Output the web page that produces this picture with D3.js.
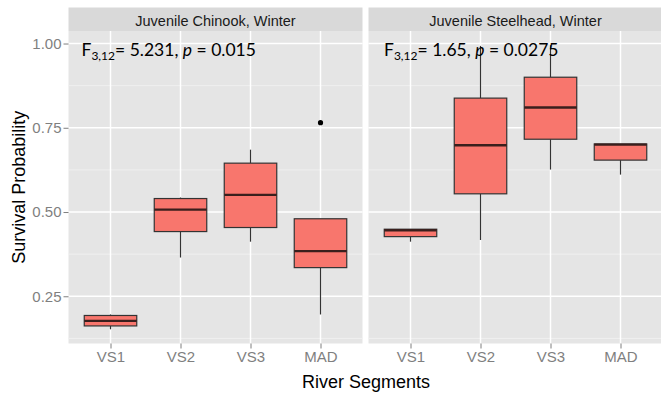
<!DOCTYPE html>
<html>
<head>
<meta charset="utf-8">
<script src="https://cdn.jsdelivr.net/npm/d3@7/dist/d3.min.js"></script>
<style>
  html, body { margin: 0; padding: 0; background: #fff; }
  svg { display: block; }
</style>
</head>
<body>
<svg id="chart" width="661" height="395"></svg>
<script>
// River segments on the x axis
const segments = ["VS1", "VS2", "VS3", "MAD"];
const panelTitles = ["Juvenile Chinook, Winter", "Juvenile Steelhead, Winter"];

// Juvenile Chinook box statistics (whisker low, Q1, median, Q3, whisker high)
const chinookLow    = [0.152, 0.365, 0.412, 0.196];
const chinookQ1     = [0.162, 0.442, 0.454, 0.335];
const chinookMedian = [0.177, 0.507, 0.551, 0.384];
const chinookQ3     = [0.193, 0.540, 0.645, 0.480];
const chinookHigh   = [0.196, 0.543, 0.685, 0.480];
const chinookOutliers = [[], [], [], [0.765]];

// Juvenile Steelhead box statistics
const steelheadLow    = [0.412, 0.417, 0.626, 0.611];
const steelheadQ1     = [0.427, 0.554, 0.716, 0.654];
const steelheadMedian = [0.446, 0.698, 0.810, 0.700];
const steelheadQ3     = [0.449, 0.838, 0.900, 0.702];
const steelheadHigh   = [0.449, 0.993, 0.995, 0.702];
const steelheadOutliers = [[], [], [], []];

// ANOVA results per panel
const statF = ["5.231", "1.65"];
const statP = ["0.015", "0.0275"];
const statDf = "3,12";

const yTicks = [0.25, 0.50, 0.75, 1.00];
const yMinor = [0.125, 0.375, 0.625, 0.875];

function boxes(low, q1, med, q3, high, out) {
  return segments.map((s, i) => ({ seg: s, low: low[i], q1: q1[i], med: med[i], q3: q3[i], high: high[i], out: out[i] }));
}
const panels = [
  { title: panelTitles[0], data: boxes(chinookLow, chinookQ1, chinookMedian, chinookQ3, chinookHigh, chinookOutliers), F: statF[0], p: statP[0] },
  { title: panelTitles[1], data: boxes(steelheadLow, steelheadQ1, steelheadMedian, steelheadQ3, steelheadHigh, steelheadOutliers), F: statF[1], p: statP[1] }
];

// layout
const svg = d3.select("#chart");
const panelTop = 31, panelBottom = 343.5, stripTop = 7.5;
const panelLeft0 = 68.5, step = 70, gap = 6;
const panelW = step * (segments.length + 0.2);

// y scale with 5% expansion of the full data range
const allVals = panels.flatMap(p => p.data.flatMap(d => [d.low, d.high, ...d.out]));
const yMin = d3.min(allVals), yMax = d3.max(allVals);
const pad = (yMax - yMin) * 0.05;
const y = d3.scaleLinear().domain([yMin - pad, yMax + pad]).range([panelBottom, panelTop]);

const fill = "#F8766D", stroke = "#333333";

panels.forEach((panel, pi) => {
  const left = panelLeft0 + pi * (panelW + gap);
  const x = d3.scalePoint().domain(segments).range([left, left + panelW]).padding(0.6);
  const g = svg.append("g");

  // strip
  g.append("rect").attr("x", left).attr("y", stripTop).attr("width", panelW).attr("height", panelTop - stripTop)
    .attr("fill", "#D9D9D9");
  g.append("text").attr("x", left + panelW / 2).attr("y", 25.5).attr("text-anchor", "middle")
    .attr("font-family", "Liberation Sans, Arial, sans-serif").attr("font-size", 14.5).attr("fill", "#1a1a1a")
    .text(panel.title);

  // panel background
  g.append("rect").attr("x", left).attr("y", panelTop).attr("width", panelW).attr("height", panelBottom - panelTop)
    .attr("fill", "#E5E5E5");

  // grid
  g.selectAll(".minor").data(yMinor).join("line")
    .attr("x1", left).attr("x2", left + panelW).attr("y1", d => y(d)).attr("y2", d => y(d))
    .attr("stroke", "#F2F2F2").attr("stroke-width", 0.8);
  g.selectAll(".major").data(yTicks).join("line")
    .attr("x1", left).attr("x2", left + panelW).attr("y1", d => y(d)).attr("y2", d => y(d))
    .attr("stroke", "#FFFFFF").attr("stroke-width", 1.5);
  g.selectAll(".vgrid").data(segments).join("line")
    .attr("x1", d => x(d)).attr("x2", d => x(d)).attr("y1", panelTop).attr("y2", panelBottom)
    .attr("stroke", "#FFFFFF").attr("stroke-width", 1.5);

  // x axis
  const xAxis = d3.axisBottom(x).tickSize(5).tickPadding(3);
  const xa = g.append("g").attr("transform", `translate(0,${panelBottom})`).call(xAxis);
  xa.select(".domain").remove();
  xa.selectAll(".tick line").attr("stroke", "#7F7F7F").attr("stroke-width", 1);
  xa.selectAll(".tick text").attr("fill", "#7F7F7F").attr("font-size", 15)
    .attr("font-family", "Liberation Sans, Arial, sans-serif");

  // y axis only on first panel
  if (pi === 0) {
    const yAxis = d3.axisLeft(y).tickValues(yTicks).tickFormat(d3.format(".2f")).tickSize(5).tickPadding(2);
    const ya = g.append("g").attr("transform", `translate(${left},0)`).call(yAxis);
    ya.select(".domain").remove();
    ya.selectAll(".tick line").attr("stroke", "#7F7F7F").attr("stroke-width", 1);
    ya.selectAll(".tick text").attr("fill", "#7F7F7F").attr("font-size", 15)
      .attr("font-family", "Liberation Sans, Arial, sans-serif");
  }

  // boxes
  const bw = step * 0.75;
  const b = g.selectAll(".box").data(panel.data).join("g");
  b.append("line").attr("x1", d => x(d.seg)).attr("x2", d => x(d.seg))
    .attr("y1", d => y(d.q3)).attr("y2", d => y(d.high)).attr("stroke", stroke).attr("stroke-width", 1.2);
  b.append("line").attr("x1", d => x(d.seg)).attr("x2", d => x(d.seg))
    .attr("y1", d => y(d.q1)).attr("y2", d => y(d.low)).attr("stroke", stroke).attr("stroke-width", 1.2);
  b.append("rect").attr("x", d => x(d.seg) - bw / 2).attr("width", bw)
    .attr("y", d => y(d.q3)).attr("height", d => y(d.q1) - y(d.q3))
    .attr("fill", fill).attr("stroke", stroke).attr("stroke-width", 1.2);
  b.append("line").attr("x1", d => x(d.seg) - bw / 2).attr("x2", d => x(d.seg) + bw / 2)
    .attr("y1", d => y(d.med)).attr("y2", d => y(d.med)).attr("stroke", "#3a1f1d").attr("stroke-width", 2.4);
  b.selectAll(".out").data(d => d.out.map(v => ({ seg: d.seg, v }))).join("circle")
    .attr("cx", d => x(d.seg)).attr("cy", d => y(d.v)).attr("r", 2.6).attr("fill", "#000");

  // ANOVA annotation
  const t = g.append("text").attr("x", left + (pi === 0 ? 13 : 15.5)).attr("y", 56)
    .attr("font-family", "Lato, Carlito, Calibri, sans-serif").attr("font-size", 17.5).attr("fill", "#000");
  t.append("tspan").text("F");
  t.append("tspan").attr("font-size", 12).attr("dy", 3.5).text(statDf);
  t.append("tspan").attr("dy", -3.5).text("= " + panel.F + ", ");
  t.append("tspan").attr("font-style", "italic").text("p");
  t.append("tspan").text(" = " + panel.p);
});

// axis titles
svg.append("text").attr("x", 366).attr("y", 388).attr("text-anchor", "middle")
  .attr("font-family", "Liberation Sans, Arial, sans-serif").attr("font-size", 18).attr("fill", "#000")
  .text("River Segments");
svg.append("text").attr("transform", `translate(25,${(panelTop + panelBottom) / 2}) rotate(-90)`)
  .attr("text-anchor", "middle")
  .attr("font-family", "Liberation Sans, Arial, sans-serif").attr("font-size", 18).attr("fill", "#000")
  .text("Survival Probability");
</script>
</body>
</html>
